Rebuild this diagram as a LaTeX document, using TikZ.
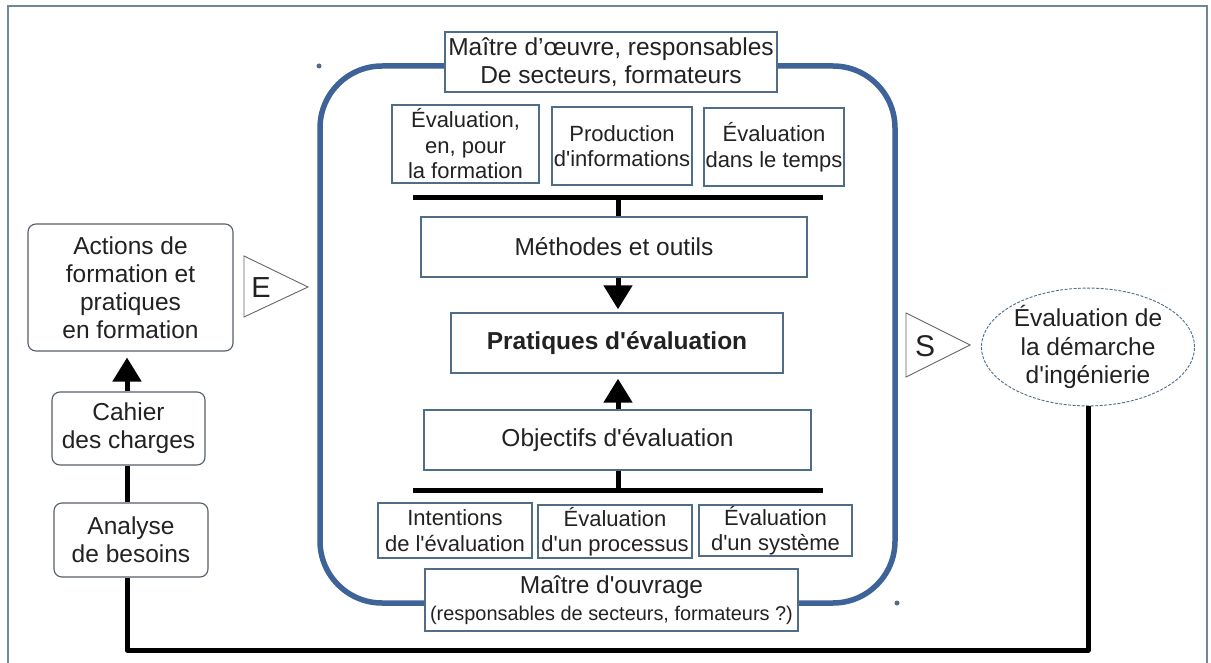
\documentclass[tikz,border=0pt]{standalone}
\usepackage{fontspec}
\setmainfont{Liberation Sans}
\usetikzlibrary{arrows.meta,shapes.geometric}
\newcommand{\ap}{\textquotesingle}
\definecolor{framec}{HTML}{6F8796}
\definecolor{boxc}{HTML}{4F6D86}
\definecolor{bigblue}{HTML}{3D6398}
\definecolor{txtc}{HTML}{222222}
\definecolor{lboxc}{HTML}{555F66}
\begin{document}
\begin{tikzpicture}[x=1pt,y=-1pt,
  fbig/.style={font=\fontsize{24.5pt}{28pt}\selectfont},
  fsmall/.style={font=\fontsize{22pt}{25.5pt}\selectfont},
  box/.style={draw=boxc, line width=1.4pt, fill=white, inner sep=0pt, align=center, text=txtc},
  lbox/.style={draw=lboxc, line width=1.1pt, fill=white, rounded corners=8pt, inner sep=0pt, align=center, text=txtc, fbig},
  thick line/.style={line width=5pt, black},
  bigarrow/.style={line width=5pt, black, -{Triangle[length=24pt,width=28pt]}},
  tri/.style={draw=gray!80!black, line width=0.9pt},
  dotc/.style={fill=boxc}
]
\fill[white] (0,0) rectangle (1211,663);
\useasboundingbox (0,0) rectangle (1211,663);
\clip (0,0) rectangle (1211,663);
\draw[framec, line width=2pt] (8,6) rectangle (1207,690);

% big blue rounded frame
\draw[bigblue, line width=5.5pt, rounded corners=62pt] (320,66) rectangle (895,603);

% top label
\node[box, fbig, minimum width=332pt, minimum height=60pt] (moe) at (611,62)
  {Maître d’œuvre, responsables\\De secteurs, formateurs};

% top three boxes
\node[box, fsmall, minimum width=147pt, minimum height=78pt] (t1) at (465.5,144)
  {Évaluation,\\en, pour\\la formation};
\node[box, fsmall, minimum width=140pt, minimum height=78pt] (t2) at (622,146)
  {Production\\d\ap informations};
\node[box, fsmall, minimum width=140pt, minimum height=78pt] (t3) at (774,147)
  {Évaluation\\dans le temps};

% bars
\coordinate (barT) at (618,198);
\coordinate (barB) at (618,490);
\draw[thick line] (413,198) -- (823,198);
\draw[thick line] (413,490) -- (823,490);

% centre boxes
\node[box, fbig, minimum width=386pt, minimum height=60pt] (meth) at (614,247)
  {Méthodes et outils};
\node[box, fbig, minimum width=332pt, minimum height=60pt] (prat) at (617,343)
  {\bfseries Pratiques d\ap évaluation};
\node[box, fbig, minimum width=387pt, minimum height=60pt] (obj) at (617.5,440)
  {Objectifs d\ap évaluation};

\draw[thick line] (barT) -- (barT |- meth.north);
\draw[thick line] (obj.south -| barB) -- (barB);
\draw[bigarrow, shorten >=3pt] (meth.south -| barT) -- (prat.north -| barT);
\draw[bigarrow, shorten >=5pt] (obj.north -| barT) -- (prat.south -| barT);

% bottom three boxes
\node[box, fsmall, minimum width=154pt, minimum height=55pt] (b1) at (455,530.5)
  {Intentions\\de l\ap évaluation};
\node[box, fsmall, minimum width=154pt, minimum height=53pt] (b2) at (615,531.5)
  {Évaluation\\d\ap un processus};
\node[box, fsmall, minimum width=153pt, minimum height=51pt] (b3) at (775.5,530.5)
  {Évaluation\\d\ap un système};

% maitre d'ouvrage
\node[box, minimum width=373pt, minimum height=62pt,
  font=\fontsize{24.5pt}{27pt}\selectfont] (mo) at (611.5,600)
  {Maître d\ap ouvrage\\
   {\fontsize{19.9pt}{27pt}\selectfont (responsables de secteurs, formateurs ?)}};

% left boxes
\coordinate (lx) at (127,0);
\node[lbox, minimum width=205pt, minimum height=127pt] (act) at (130.5,287.5)
  {Actions de\\formation et\\pratiques\\en formation};
\node[lbox, minimum width=153pt, minimum height=73pt] (cah) at (128.5,428.5)
  {Cahier\\des charges};
\node[lbox, minimum width=154pt, minimum height=74pt] (ana) at (131,540)
  {Analyse\\de besoins};

\draw[thick line] (ana.north -| lx) -- (cah.south -| lx);
\draw[bigarrow, shorten >=6pt] (cah.north -| lx) -- (act.south -| lx);

% ellipse
\node[ellipse, draw=boxc, line width=0.9pt, dash pattern=on 3pt off 1.5pt,
  minimum width=213pt, minimum height=110pt, inner sep=0pt, align=center,
  text=txtc, font=\fontsize{24.5pt}{28.5pt}\selectfont] (ell) at (1088,347)
  {Évaluation de\\la démarche\\d\ap ingénierie};

% bottom feedback line
\coordinate (bot) at (0,650);
\draw[thick line, line join=round] (ell.south) -- (ell.south |- bot) -- (lx |- bot) -- (ana.south -| lx);

% E and S triangles
\draw[tri] (244,256) -- (308,287) -- (244,317) -- cycle;
\node[text=txtc, font=\fontsize{29pt}{29pt}\selectfont, inner sep=0pt] (eE) at (261,288) {E};
\draw[tri] (906,313) -- (970,345) -- (906,377) -- cycle;
\node[text=txtc, font=\fontsize{30pt}{30pt}\selectfont, inner sep=0pt] (eS) at (925,346) {S};

% small dots
\fill[dotc] (319,66) circle (2.5pt);
\fill[dotc] (897,603) circle (2.5pt);
\end{tikzpicture}
\end{document}
